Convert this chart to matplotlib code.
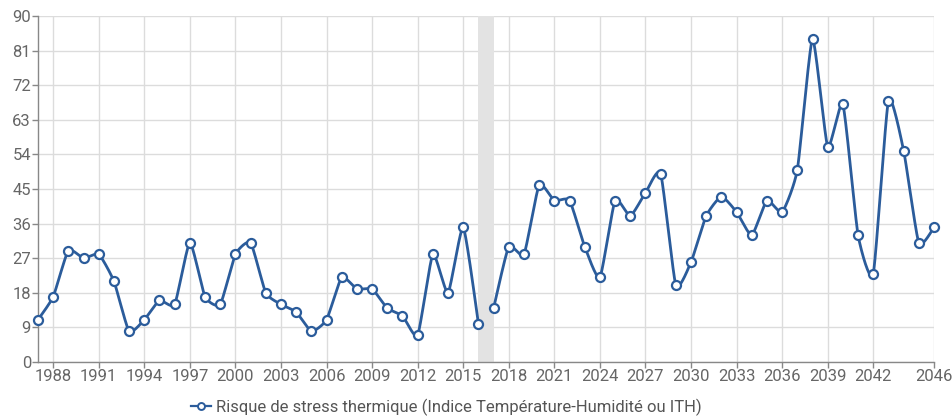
import numpy as np
import matplotlib
matplotlib.use("Agg")
import matplotlib.pyplot as plt
from matplotlib.lines import Line2D

plt.rcParams['font.family'] = ['Roboto', 'DejaVu Sans']

years_a = list(range(1987, 2017))
values_a = [11, 17, 29, 27, 28, 21, 8, 11, 16, 15, 31, 17, 15, 28, 31, 18, 15, 13, 8, 11,
            22, 19, 19, 14, 12, 7, 28, 18, 35, 10]
years_b = list(range(2017, 2047))
values_b = [14, 30, 28, 46, 42, 42, 30, 22, 42, 38, 44, 49, 20, 26, 38, 43, 39, 33, 42, 39,
            50, 84, 56, 67, 33, 23, 68, 55, 31, 35]
band = (2016, 2017)
xticks = list(range(1988, 2043, 3)) + [2046]
yticks = list(range(0, 91, 9))
legend_label = "Risque de stress thermique (Indice Température-Humidité ou ITH)"

LINE = '#2b5c9b'
W, H = 953, 416
AX_L, AX_R, AX_T, AX_B = 38, 934, 16, 362
XMIN, XMAX, YMIN, YMAX = 1987, 2046, 0, 90


def cardinal(xs, ys, k=0.09, n=40):
    P = np.column_stack([np.asarray(xs, float), np.asarray(ys, float)])
    N = len(P)
    tang = np.array([(P[min(i + 1, N - 1)] - P[max(i - 1, 0)]) * k for i in range(N)])
    t = np.linspace(0, 1, n)[:, None]
    out = [P[:1]]
    for i in range(1, N):
        p0 = P[i - 1]; p3 = P[i]
        p1 = p0 + tang[i - 1]; p2 = p3 - tang[i]
        seg = ((1 - t) ** 3) * p0 + 3 * ((1 - t) ** 2) * t * p1 + 3 * (1 - t) * t ** 2 * p2 + t ** 3 * p3
        out.append(seg[1:])
    pts = np.vstack(out)
    return pts[:, 0], pts[:, 1]


fig = plt.figure(figsize=(W / 100, H / 100), dpi=100)
ax = fig.add_axes([AX_L / W, 1 - AX_B / H, (AX_R - AX_L) / W, (AX_B - AX_T) / H])

ax.axvspan(band[0], band[1], color='#e3e3e3', zorder=1, lw=0)

for xs, ys in [(years_a, values_a), (years_b, values_b)]:
    cx, cy = cardinal(xs, ys)
    ax.plot(cx, cy, color=LINE, lw=2.0, zorder=3, solid_capstyle='round', solid_joinstyle='round', clip_on=False)
    ax.plot(xs, ys, ls='none', marker='o', ms=6.5, mfc='white', mec=LINE, mew=1.6, zorder=4, clip_on=False)

ax.set_xlim(XMIN, XMAX)
ax.set_ylim(YMIN, YMAX)
ax.set_xticks(xticks)
ax.set_yticks(yticks)
ax.grid(True, color='#dcdcdc', lw=1, zorder=0)
ax.set_axisbelow(True)
for sp in ['top', 'right']:
    ax.spines[sp].set_visible(False)
for sp in ['left', 'bottom']:
    ax.spines[sp].set_color('#888888')
    ax.spines[sp].set_linewidth(1)
ax.tick_params(axis='both', colors='#888888', labelcolor='#666666', labelsize=12, length=4, width=1)
ax.tick_params(axis='x', pad=1)
ax.tick_params(axis='y', pad=1)

handle = Line2D([], [], color=LINE, lw=1.6, marker='o', ms=5, mfc='white', mec=LINE, mew=1.4)
fig.legend([handle], [legend_label], loc='lower center', bbox_to_anchor=(0.468, -0.035),
           frameon=False, fontsize=12, labelcolor='#555555', handlelength=1.2, handletextpad=0.3)

fig.savefig('out.png', dpi=100)
